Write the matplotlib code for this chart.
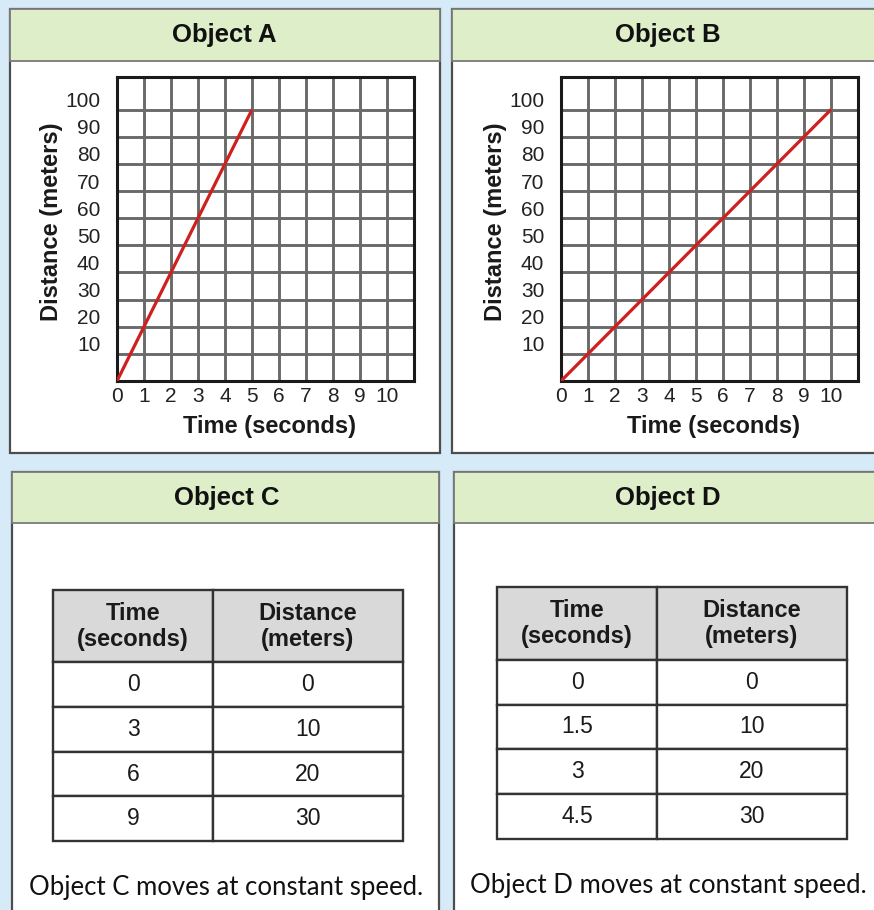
import matplotlib.pyplot as plt
from matplotlib.patches import Rectangle
from matplotlib.transforms import ScaledTranslation

graph_titles = ["Object A", "Object B"]
graph_times = [[0, 5], [0, 10]]
graph_distances = [[0, 100], [0, 100]]
x_ticks = list(range(0, 11))
y_ticks = list(range(10, 101, 10))

table_titles = ["Object C", "Object D"]
table_header = ["Time\n(seconds)", "Distance\n(meters)"]
table_times = [[0, 3, 6, 9], [0, 1.5, 3, 4.5]]
table_distances = [[0, 10, 20, 30], [0, 10, 20, 30]]
captions = ["Object C moves at constant speed.", "Object D moves at constant speed."]

W, H = 874, 910
bg_color = "#d6eaf8"
head_color = "#ddeec9"
edge_color = "#4d4d4d"
red = "#d01f1f"
grid_color = "#6a6a6a"

plt.rcParams["font.family"] = ["Liberation Sans", "DejaVu Sans"]

fig = plt.figure(figsize=(W / 100, H / 100), dpi=100)
fig.patch.set_facecolor(bg_color)


def px_axes(x0, y0, x1, y1):
    # axes placed by pixel box (origin top left)
    return fig.add_axes([x0 / W, 1 - y1 / H, (x1 - x0) / W, (y1 - y0) / H])


# background layer in pixel coords
bg = px_axes(0, 0, W, H)
bg.set_xlim(0, W)
bg.set_ylim(H, 0)
bg.axis("off")

# panel boxes: x0, y0, x1, y1, header bottom
panel_boxes = [(10, 9, 440, 453, 61), (452, 9, 880, 453, 61),
               (12, 472, 439, 916, 523), (454, 472, 880, 916, 523)]
panel_titles = graph_titles + table_titles
title_x = [224, 668, 227, 668]
for (x0, y0, x1, y1, hb), title, tx in zip(panel_boxes, panel_titles, title_x):
    bg.add_patch(Rectangle((x0, y0), x1 - x0, y1 - y0, facecolor="white",
                           edgecolor=edge_color, linewidth=1.6))
    bg.add_patch(Rectangle((x0, y0), x1 - x0, hb - y0, facecolor=head_color,
                           edgecolor="#7a7a7a", linewidth=1.3))
    bg.text(tx, (y0 + hb) / 2, title, ha="center", va="center",
            fontsize=18.5, fontweight="bold", color="#111111")

# GRAPHS ---------------------------------------------------------------------
graph_boxes = [(117, 77, 414, 381), (561, 77, 858, 381)]
for (x0, y0, x1, y1), t, d in zip(graph_boxes, graph_times, graph_distances):
    ax = px_axes(x0, y0, x1, y1)
    ax.set_facecolor("white")
    ax.set_xlim(0, 11)
    ax.set_ylim(0, 112)
    ax.set_xticks(x_ticks)
    ax.set_yticks(y_ticks)
    ax.grid(True, color=grid_color, linewidth=2.1, zorder=1)
    ax.set_axisbelow(True)
    for s in ax.spines.values():
        s.set_color("#1a1a1a")
        s.set_linewidth(2.2)
    ax.tick_params(length=0, labelsize=15, labelcolor="#222222")
    ax.tick_params(axis="x", pad=4)
    ax.tick_params(axis="y", pad=12)
    for lab in ax.get_yticklabels():
        lab.set_transform(lab.get_transform() +
                          ScaledTranslation(0, 0.1, fig.dpi_scale_trans))

    ax.plot(t, d, color=red, linewidth=2.3, zorder=3, solid_capstyle="butt")

    ax.set_xlabel("Time (seconds)", fontsize=17, fontweight="bold", color="#1a1a1a")
    ax.xaxis.set_label_coords(0.512, -0.151)
    ax.xaxis.label.set_va("center")
    ax.set_ylabel("Distance (meters)", fontsize=17, fontweight="bold", color="#1a1a1a")
    ax.yaxis.set_label_coords(-0.219, 0.523)
    ax.yaxis.label.set_va("center")

# TABLES ---------------------------------------------------------------------
table_boxes = [(53, 590, 403, 841), (497, 587, 847, 839)]
for (x0, y0, x1, y1), tt, dd in zip(table_boxes, table_times, table_distances):
    tax = px_axes(x0, y0, x1, y1)
    tax.axis("off")
    rows = [[f"{a:g}", f"{b:g}"] for a, b in zip(tt, dd)]
    tb = tax.table(cellText=rows, colLabels=table_header, cellLoc="center",
                   colWidths=[160, 190], bbox=[0, 0, 1, 1])
    tb.auto_set_font_size(False)
    for (r, c), cell in tb.get_celld().items():
        cell.set_edgecolor("#333333")
        cell.set_linewidth(1.7)
        if r == 0:
            cell.set_height(73)
            cell.set_facecolor("#d9d9d9")
            cell.get_text().set_fontsize(17)
            cell.get_text().set_fontweight("bold")
            cell.get_text().set_linespacing(1.15)
        else:
            cell.set_height(45)
            cell.get_text().set_fontsize(16.5)
        cell.get_text().set_color("#1a1a1a")

# captions under the tables
caption_x = [226, 668]
caption_y = [887, 885]
for cap, cx, cy in zip(captions, caption_x, caption_y):
    bg.text(cx, cy, cap, ha="center", va="center", fontsize=18.5,
            family="Lato", color="#111111")

fig.savefig("out.png", dpi=100, facecolor=bg_color)
